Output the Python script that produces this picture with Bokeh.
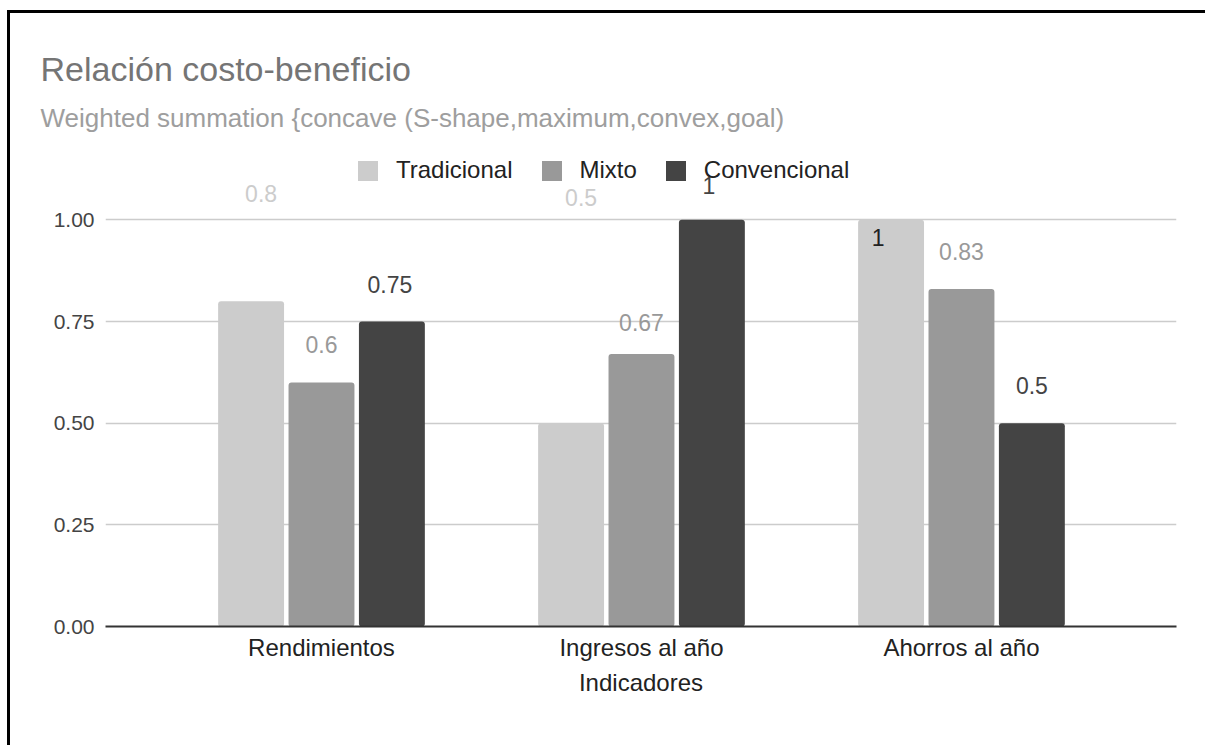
from bokeh.plotting import figure
from bokeh.models import (Range1d, FixedTicker, Legend, LegendItem, Title,
                          ColumnDataSource, NumeralTickFormatter)
from bokeh.core.properties import value
from bokeh.transform import dodge
from bokeh.embed import file_html
from bokeh.resources import INLINE

# ---- data ----
categories = ["Rendimientos", "Ingresos al año", "Ahorros al año"]
series_names = ["Tradicional", "Mixto", "Convencional"]
tradicional = [0.8, 0.5, 1.0]
mixto = [0.6, 0.67, 0.83]
convencional = [0.75, 1.0, 0.5]
y_ticks = [0.0, 0.25, 0.5, 0.75, 1.0]

title_text = "Relación costo-beneficio"
subtitle_text = "Weighted summation {concave (S-shape,maximum,convex,goal)"
x_title = "Indicadores"

# ---- styles ----
FONT = "Liberation Sans"
bar_colors = ["#cccccc", "#999999", "#444444"]
series_offsets = [-0.22, 0.0, 0.22]
bar_width = 0.206
# per-label screen nudges (pixels) and colours, series-major
label_dx = [[10, 10, -13], [0, 0, 0], [-2, -3, 0]]
label_dy = [[-108, -226, 18], [-38, -32, -37], [-37, -34, -38]]
label_colors = [["#cccccc", "#cccccc", "#222222"],
                ["#999999", "#999999", "#999999"],
                ["#444444", "#444444", "#444444"]]

xs = list(range(len(categories)))
src = ColumnDataSource(dict(x=xs, Tradicional=tradicional, Mixto=mixto,
                            Convencional=convencional))

p = figure(width=1198, height=735,
           x_range=Range1d(-0.675, 2.672), y_range=Range1d(0, 1.2),
           output_backend="svg", toolbar_location=None,
           min_border_left=95, min_border_right=32,
           min_border_top=125, min_border_bottom=122,
           styles={"margin-left": "10px", "margin-top": "13px",
                   "box-shadow": "-3px -3px 0px 0px #000"})
p.outline_line_color = None
p.background_fill_color = "white"
p.border_fill_color = "white"

renderers = []
for name, off, col in zip(series_names, series_offsets, bar_colors):
    r = p.vbar(x=dodge("x", off, range=p.x_range), top=name, width=bar_width,
               source=src, fill_color=col, line_color=None, border_radius=3)
    renderers.append(r)

# data labels
lx, ly, lt, lc, lxo, lyo = [], [], [], [], [], []
for si, vals in enumerate([tradicional, mixto, convencional]):
    for ci, v in enumerate(vals):
        lx.append(xs[ci] + series_offsets[si])
        ly.append(v)
        lt.append(f"{v:g}")
        lc.append(label_colors[si][ci])
        lxo.append(label_dx[si][ci])
        lyo.append(label_dy[si][ci])
lsrc = ColumnDataSource(dict(x=lx, y=ly, text=lt, c=lc, xo=lxo, yo=lyo))
p.text(x="x", y="y", text="text", x_offset="xo", y_offset="yo", text_color="c",
       text_font=value(FONT), text_font_size="23px", text_align="center",
       text_baseline="middle", source=lsrc)

# axes
p.xaxis.ticker = FixedTicker(ticks=xs)
p.xaxis.major_label_overrides = {i: c for i, c in zip(xs, categories)}
p.xaxis.major_tick_line_color = None
p.xaxis.minor_tick_line_color = None
p.xaxis.axis_line_color = "#333333"
p.xaxis.axis_line_width = 2
p.xaxis.major_label_text_font = FONT
p.xaxis.major_label_text_font_size = "24px"
p.xaxis.major_label_text_color = "#222222"
p.xaxis.major_label_standoff = 1
p.xaxis.axis_label = x_title
p.xaxis.axis_label_text_font = FONT
p.xaxis.axis_label_text_font_size = "24px"
p.xaxis.axis_label_text_font_style = "normal"
p.xaxis.axis_label_text_color = "#222222"
p.xaxis.axis_label_standoff = 5

p.yaxis.ticker = FixedTicker(ticks=y_ticks)
p.yaxis.formatter = NumeralTickFormatter(format="0.00")
p.yaxis.axis_line_color = None
p.yaxis.major_tick_line_color = None
p.yaxis.minor_tick_line_color = None
p.yaxis.major_label_text_font = FONT
p.yaxis.major_label_text_font_size = "21px"
p.yaxis.major_label_text_color = "#444444"
p.yaxis.major_label_standoff = 5

p.xgrid.visible = False
p.ygrid.ticker = FixedTicker(ticks=y_ticks)
p.ygrid.grid_line_color = "#cccccc"
p.ygrid.grid_line_width = 1.5

# titles (p.title is outermost, the added one sits next to the frame)
p.title.text = title_text
p.title.text_font = FONT
p.title.text_font_size = "34px"
p.title.text_font_style = "normal"
p.title.text_color = "#757575"
p.title.offset = -65
p.title.standoff = 14
sub = Title(text=subtitle_text, text_font=FONT, text_font_size="26px",
            text_font_style="normal", text_color="#9e9e9e", offset=-65, standoff=12)
p.add_layout(sub, "above")

# legend
legend = Legend(items=[LegendItem(label=n, renderers=[r]) for n, r in zip(series_names, renderers)],
                orientation="horizontal", location=(250, 442),
                label_text_font=FONT, label_text_font_size="24px",
                label_text_color="#222222", glyph_width=25, glyph_height=25,
                label_standoff=16, spacing=26, padding=0, margin=0,
                border_line_color=None, background_fill_alpha=0)
p.add_layout(legend)

open("out.html", "w").write(file_html(p, INLINE))
